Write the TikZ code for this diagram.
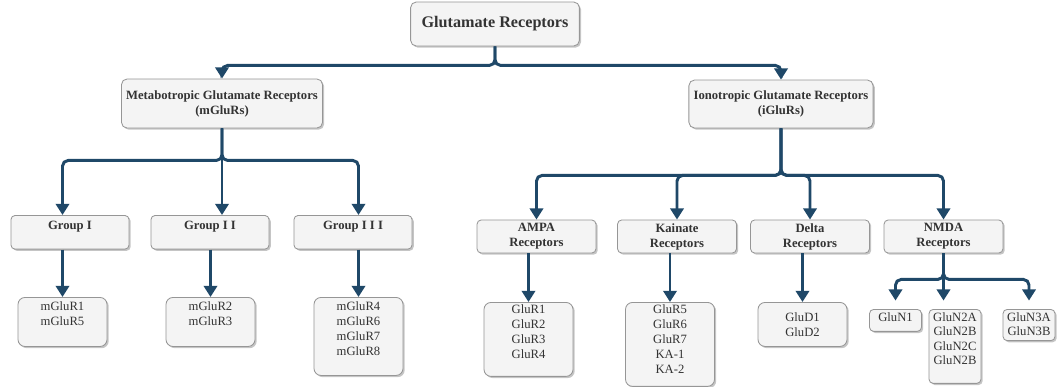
\documentclass[tikz,border=0pt]{standalone}
\usepackage{fontspec}
\setmainfont{Liberation Serif}
\usepackage{tikz}
\usetikzlibrary{arrows.meta,shadows}

\definecolor{linkblue}{RGB}{31,72,104}
\definecolor{boxfill}{RGB}{244,244,244}
\definecolor{boxline}{RGB}{150,150,150}
\definecolor{txt}{RGB}{51,51,51}

\tikzset{
  box/.style={draw=boxline, fill=boxfill, line width=0.6pt, rounded corners=3pt, text=txt, align=center,
    drop shadow={shadow xshift=1.2pt, shadow yshift=-1.2pt, fill=black!45, opacity=0.5},
    font=\fontsize{9}{10.7}\selectfont},
  head/.style={box, font=\bfseries\fontsize{9}{10.7}\selectfont},
  groupbox/.style={head, anchor=north, minimum width=84pt, inner ysep=3pt, text height=7pt, text depth=11pt},
  recbox/.style={head, minimum width=84.6pt, minimum height=23.5pt, inner sep=1pt},
  leaf/.style={box, rounded corners=5pt, anchor=north, minimum width=63.3pt, inner ysep=3pt},
  subunit/.style={box, anchor=north, minimum width=37pt, inner xsep=1pt, inner ysep=2pt,
    font=\fontsize{9}{10.2}\selectfont},
  link/.style={draw=linkblue, line width=2.1pt, rounded corners=4pt, -{Triangle[width=9.5pt,length=8pt]}},
}

\begin{document}
\begin{tikzpicture}[x=0.025cm,y=-0.025cm]
\useasboundingbox (0,0) rectangle (1060,387);

% Root
\node[box, font=\bfseries\fontsize{11.5}{13}\selectfont, rounded corners=4pt, minimum width=120pt, minimum height=31.3pt] (root) at (495,24) {Glutamate Receptors};

% Two families
\node[head, rounded corners=4pt, minimum width=142pt, minimum height=34.9pt] (mglu) at (222,103.5) {Metabotropic Glutamate Receptors\\(mGluRs)};
\node[head, rounded corners=4pt, minimum width=126.6pt, minimum height=34.1pt] (iglu) at (781,104) {Ionotropic Glutamate Receptors\\(iGluRs)};

% mGluR groups
\node[groupbox] (grp1) at (70,215) {Group I};
\node[groupbox] (grp2) at (210,215) {Group I I};
\node[groupbox] (grp3) at (353,215) {Group I I I};

\node[leaf, text height=17.2pt, text depth=11.7pt] (mgr1) at (62.5,297) {mGluR1\\mGluR5};
\node[leaf, text height=17.2pt, text depth=11.7pt] (mgr2) at (210.5,297) {mGluR2\\mGluR3};
\node[leaf, text height=38.6pt, text depth=10.9pt] (mgr3) at (358.5,297) {mGluR4\\mGluR6\\mGluR7\\mGluR8};

% iGluR types
\node[recbox] (ampa) at (536.5,236.5) {AMPA\\Receptors};
\node[recbox] (kain) at (677,236.5) {Kainate\\Receptors};
\node[recbox] (delta) at (810,236.5) {Delta\\Receptors};
\node[recbox] (nmda) at (943.5,236.5) {NMDA\\Receptors};

\node[leaf, text height=37pt, text depth=9.6pt] (ampasub) at (528.5,302) {GluR1\\GluR2\\GluR3\\GluR4};
\node[leaf, text height=47.7pt, text depth=6pt] (kainsub) at (670,302) {GluR5\\GluR6\\GluR7\\KA-1\\KA-2};
\node[leaf, text height=21.2pt, text depth=4.1pt] (deltasub) at (802.5,302) {GluD1\\GluD2};

\node[subunit, text height=6.5pt, text depth=5.1pt] (glun1) at (895.5,309) {GluN1};
\node[subunit, text height=37.1pt, text depth=11.5pt] (glun2) at (955,309) {GluN2A\\GluN2B\\GluN2C\\GluN2B};
\node[subunit, text height=16.7pt, text depth=1.5pt] (glun3) at (1029,309) {GluN3A\\GluN3B};

% Connectors
\draw[link] (root.south) -- ++(0,19) -| (mglu.north);
\draw[link] (root.south) -- ++(0,19) -| (iglu.north);

\draw[link] (mglu.south) -- ++(0,32) -| (grp1.north -| mgr1.north);
\draw[link] (mglu.south) -- (mglu.south |- grp2.north);
\draw[link] (mglu.south) -- ++(0,32) -| (grp3.north -| mgr3.north);

\draw[link] (grp1.south -| mgr1.north) -- (mgr1.north);
\draw[link] (grp2.south -| mgr2.north) -- (mgr2.north);
\draw[link] (grp3.south -| mgr3.north) -- (mgr3.north);

\draw[link] (iglu.south) -- ++(0,47) -| (ampa.north);
\draw[link] (iglu.south) -- ++(0,47) -| (kain.north);
\draw[link] (iglu.south) -- ++(0,47) -| (delta.north);
\draw[link] (iglu.south) -- ++(0,47) -| (nmda.north);

\draw[link] (ampa.south -| ampasub.north) -- (ampasub.north);
\draw[link] (kain.south -| kainsub.north) -- (kainsub.north);
\draw[link] (delta.south -| deltasub.north) -- (deltasub.north);

\draw[link, shorten >=6pt] (nmda.south) -- ++(0,26) -| (glun1.north);
\draw[link, shorten >=6pt] (nmda.south) -- (nmda.south |- glun2.north);
\draw[link, shorten >=6pt] (nmda.south) -- ++(0,26) -| (glun3.north);
\end{tikzpicture}
\end{document}
